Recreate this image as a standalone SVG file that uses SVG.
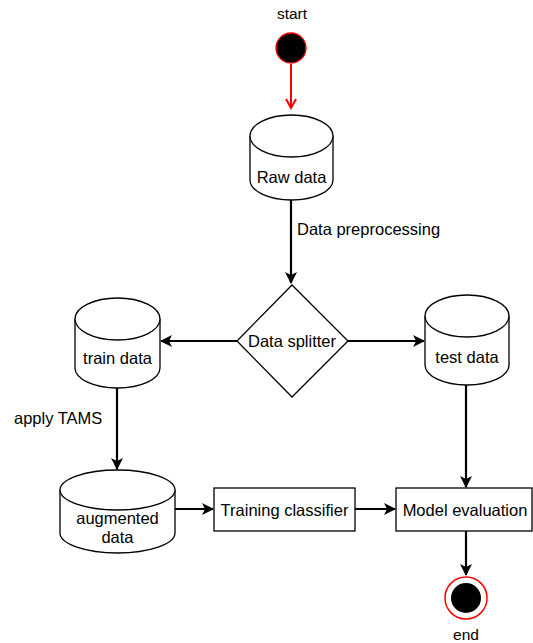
<svg xmlns="http://www.w3.org/2000/svg" width="533" height="643" viewBox="0 0 533 643">
<style>
text{font-family:"Liberation Sans",Arial,sans-serif;font-size:16.5px;fill:#000}
.c{text-anchor:middle}
.s{font-size:15.5px}
.shape{fill:#fff;stroke:#000;stroke-width:1.3}
.edge{fill:none;stroke:#000;stroke-width:2.2}
</style>
<defs>
<marker id="ah" markerWidth="12" markerHeight="12" refX="11" refY="6" orient="auto" markerUnits="userSpaceOnUse" viewBox="0 0 12 12">
<path d="M0,0 L12,6 L0,12 L3,6 z" fill="#000"/>
</marker>
<marker id="ahr" markerWidth="12" markerHeight="12" refX="10" refY="6" orient="auto" markerUnits="userSpaceOnUse" viewBox="0 0 12 12">
<path d="M1,1 L10,6 L1,11" fill="none" stroke="#ff0000" stroke-width="2"/>
</marker>
</defs>
<g id="connectors">
<line x1="291" y1="64" x2="291" y2="108" stroke="#ff0000" stroke-width="2" marker-end="url(#ahr)"/>
<line class="edge" x1="291" y1="200" x2="291" y2="283" marker-end="url(#ah)"/>
<line class="edge" x1="237" y1="341" x2="161" y2="341" marker-end="url(#ah)"/>
<line class="edge" x1="348" y1="341" x2="424" y2="341" marker-end="url(#ah)"/>
<line class="edge" x1="117" y1="388" x2="117" y2="469" marker-end="url(#ah)"/>
<line class="edge" x1="175" y1="509" x2="213" y2="509" marker-end="url(#ah)"/>
<line class="edge" x1="355" y1="509" x2="395" y2="509" marker-end="url(#ah)"/>
<line class="edge" x1="466" y1="385" x2="466" y2="487" marker-end="url(#ah)"/>
<line class="edge" x1="466" y1="531" x2="466" y2="575" marker-end="url(#ah)"/>
<text x="297" y="235">Data preprocessing</text>
<text x="14" y="424">apply TAMS</text>
</g>
<g id="start">
<text class="c s" x="292" y="19">start</text>
<circle cx="291" cy="48" r="15" fill="#000" stroke="#ff0000" stroke-width="1.3"/>
</g>
<g id="raw-data">
<path class="shape" d="M250,136 L250,180 A41.5,20 0 0 0 333,180 L333,136"/>
<ellipse class="shape" cx="291.5" cy="136" rx="41.5" ry="21"/>
<text class="c" x="291.5" y="183">Raw data</text>
</g>
<g id="data-splitter">
<polygon class="shape" points="292,285 348,341 292,397 237,341"/>
<text class="c" x="292" y="347">Data splitter</text>
</g>
<g id="train-data">
<path class="shape" d="M75,319 L75,368 A42.5,20 0 0 0 160,368 L160,319"/>
<ellipse class="shape" cx="117.5" cy="319" rx="42.5" ry="21"/>
<text class="c" x="117.5" y="364">train data</text>
</g>
<g id="test-data">
<path class="shape" d="M425,316 L425,365 A42,20 0 0 0 509,365 L509,316"/>
<ellipse class="shape" cx="467" cy="316" rx="42" ry="21"/>
<text class="c" x="467" y="363">test data</text>
</g>
<g id="augmented-data">
<path class="shape" d="M60,490 L60,533 A57.5,20 0 0 0 175,533 L175,490"/>
<ellipse class="shape" cx="117.5" cy="490" rx="57.5" ry="20"/>
<text class="c" x="117.5" y="524">augmented</text>
<text class="c" x="117.5" y="543">data</text>
</g>
<g id="training-classifier">
<rect class="shape" x="214" y="488" width="141" height="43"/>
<text class="c" x="284.5" y="516">Training classifier</text>
</g>
<g id="model-evaluation">
<rect class="shape" x="396" y="488" width="136" height="43"/>
<text class="c" x="465" y="516">Model evaluation</text>
</g>
<g id="end">
<circle cx="466" cy="598" r="21" fill="#fff" stroke="#ff0000" stroke-width="1.5"/>
<circle cx="466" cy="598" r="15" fill="#000"/>
<text class="c s" x="466" y="640">end</text>
</g>
</svg>
